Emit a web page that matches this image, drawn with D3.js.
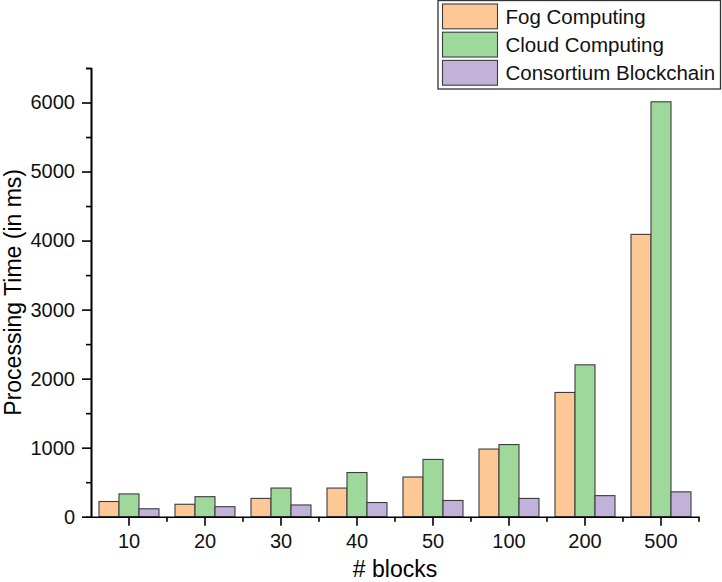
<!DOCTYPE html>
<html>
<head>
<meta charset="utf-8">
<script src="https://cdn.jsdelivr.net/npm/d3@7"></script>
<style>
  html, body { margin: 0; padding: 0; background: #fff; }
  svg { display: block; font-family: "Liberation Sans", Arial, sans-serif; }
</style>
</head>
<body>
<svg class="js-render-chart" width="722" height="582"></svg>
<script>
"use strict";

//data

const blocks = ["10", "20", "30", "40", "50", "100", "200", "500"];
const seriesNames = ["Fog Computing", "Cloud Computing", "Consortium Blockchain"];
const fogComputing = [220, 180, 265, 415, 575, 980, 1800, 4090];
const cloudComputing = [330, 290, 415, 640, 830, 1045, 2200, 6010];
const consortiumBlockchain = [115, 145, 170, 205, 235, 265, 305, 360];
const yTicks = [0, 1000, 2000, 3000, 4000, 5000, 6000];
const yMinorTicks = [500, 1500, 2500, 3500, 4500, 5500, 6500];
const colors = ["#fdc896", "#9fd89b", "#c2b2d9"];

const seriesValues = [fogComputing, cloudComputing, consortiumBlockchain];

//svg params

const svg = d3.select(".js-render-chart");

const m = { t: 68, r: 23, b: 65.3, l: 91 };
const w = 722 - m.l - m.r;
const h = 582 - m.t - m.b;

const chart = svg.append("g")
  .attr("transform", `translate(${m.l}, ${m.t})`);

//scales

const x = d3.scaleBand()
  .domain(blocks)
  .range([0, w])
  .padding(0);

const xs = d3.scaleBand()
  .domain(seriesNames)
  .range([0, x.bandwidth()])
  .paddingInner(0)
  .paddingOuter(0.4);

const y = d3.scaleLinear()
  .domain([0, 6500])
  .range([h, 0]);

//bars

const rows = blocks.map((b, i) => seriesNames.map((s, j) => ({ b, s, j, v: seriesValues[j][i] })));

chart.append("g")
  .selectAll("g")
  .data(rows)
  .join("g")
  .attr("transform", (d) => `translate(${x(d[0].b)}, 0)`)
  .selectAll("rect")
  .data((d) => d)
  .join("rect")
  .attr("x", (d) => xs(d.s))
  .attr("y", (d) => y(d.v))
  .attr("width", xs.bandwidth())
  .attr("height", (d) => h - y(d.v))
  .attr("fill", (d) => colors[d.j])
  .attr("stroke", "#3c3c3c")
  .attr("stroke-width", 1.1);

//axes

const styleAxis = (g) => {
  g.select(".domain").attr("stroke", "#000").attr("stroke-width", 1.6);
  g.selectAll(".tick line").attr("stroke", "#000").attr("stroke-width", 1.6);
  g.selectAll(".tick text")
    .attr("fill", "#111")
    .style("font-size", "20px")
    .style("font-family", "'Liberation Sans', Arial, sans-serif");
};

chart.append("g")
  .call(d3.axisLeft(y).tickValues(yMinorTicks).tickSize(5).tickFormat(""))
  .call(styleAxis);

chart.append("g")
  .call(d3.axisLeft(y).tickValues(yTicks).tickSize(9).tickSizeOuter(0).tickPadding(7).tickFormat(d3.format("d")))
  .call(styleAxis);

chart.append("g")
  .attr("transform", `translate(0, ${h})`)
  .selectAll("line")
  .data(blocks)
  .join("line")
  .attr("x1", (d) => x(d) + x.bandwidth())
  .attr("x2", (d) => x(d) + x.bandwidth())
  .attr("y1", 0)
  .attr("y2", 5)
  .attr("stroke", "#000")
  .attr("stroke-width", 1.6);

chart.append("g")
  .attr("transform", `translate(0, ${h})`)
  .call(d3.axisBottom(x).tickSize(9).tickSizeOuter(0).tickPadding(8))
  .call(styleAxis);

//axis titles

svg.append("text")
  .attr("transform", `translate(${m.l + w / 2}, 577)`)
  .attr("text-anchor", "middle")
  .style("font-size", "23px")
  .attr("fill", "#000")
  .text("# blocks");

svg.append("text")
  .attr("transform", `translate(21, ${m.t + h / 2}) rotate(-90)`)
  .attr("text-anchor", "middle")
  .style("font-size", "23px")
  .attr("fill", "#000")
  .text("Processing Time (in ms)");

//legend

const legend = svg.append("g")
  .attr("transform", "translate(438, 0)");

legend.append("rect")
  .attr("x", 0)
  .attr("y", 0.5)
  .attr("width", 282.5)
  .attr("height", 88.5)
  .attr("fill", "#fff")
  .attr("stroke", "#333")
  .attr("stroke-width", 1.3);

const items = legend.selectAll(".item")
  .data(seriesNames)
  .join("g")
  .attr("class", "item")
  .attr("transform", (d, i) => `translate(4.5, ${4 + i * 28.2})`);

items.append("rect")
  .attr("width", 55)
  .attr("height", 24.8)
  .attr("fill", (d, i) => colors[i])
  .attr("stroke", "#3c3c3c")
  .attr("stroke-width", 1.1);

items.append("text")
  .attr("x", 63)
  .attr("y", 19.8)
  .style("font-size", "20.5px")
  .attr("fill", "#111")
  .text((d) => d);
</script>
</body>
</html>
